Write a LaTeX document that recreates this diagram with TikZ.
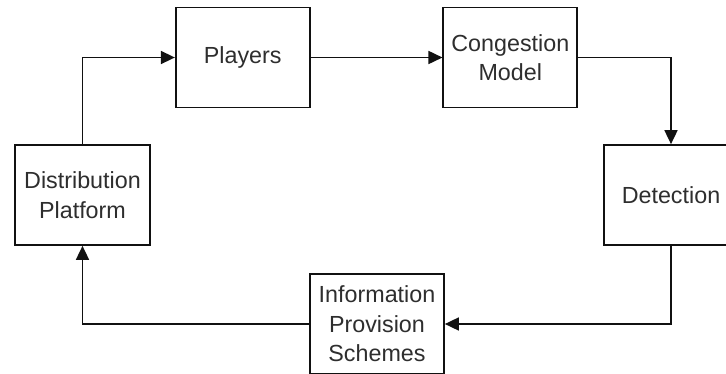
\documentclass[tikz,border=0pt]{standalone}
\usepackage{fontspec}
\setmainfont{Liberation Sans}
\usetikzlibrary{arrows.meta}
\definecolor{linec}{HTML}{111111}
\definecolor{textc}{HTML}{2E2E2E}
\tikzset{
  blockbox/.style={draw=linec, line width=1.7pt, fill=white, minimum width=134pt, minimum height=100pt,
    inner sep=0pt, align=center, text=textc, font=\fontsize{23.3}{29.5}\selectfont},
  flow/.style={draw=linec, line width=1.7pt, -{Triangle[length=14pt,width=13pt]}}
}
\begin{document}
\begin{tikzpicture}[x=1pt,y=-1pt]
\path[use as bounding box, fill=white] (0,0) rectangle (726,373);
\begin{scope}
\clip (0,0) rectangle (726,373);
\node[blockbox] (players) at (242.7,57.5) {Players};
\node[blockbox] (cong) at (510.3,57.5) {Congestion\\Model};
\node[blockbox] (det) at (671,195) {Detection};
\node[blockbox] (info) at (377,324) {Information\\Provision\\Schemes};
\node[blockbox, minimum width=135pt] (dist) at (82.5,195) {Distribution\\Platform};
\draw[flow] (dist.north) |- (players.west);
\draw[flow] (players.east) -- (cong.west);
\draw[flow] (cong.east) -| (det.north);
\draw[flow] (det.south) |- (info.east);
\draw[flow] (info.west) -| (dist.south);
\end{scope}
\end{tikzpicture}
\end{document}
